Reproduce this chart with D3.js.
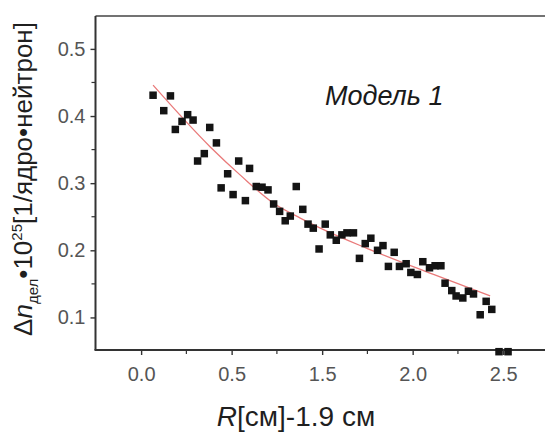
<!DOCTYPE html>
<html>
<head>
<meta charset="utf-8">
<script src="https://cdn.jsdelivr.net/npm/d3@7"></script>
<style>
  html, body { margin: 0; padding: 0; background: #fff; }
  svg { display: block; font-family: "Liberation Sans", Arial, sans-serif; }
</style>
</head>
<body>
<svg id="chart" width="545" height="433"></svg>
<script>
// ---- data ----
const pointX = [0.066,0.162,0.125,0.257,0.287,0.226,0.189,0.379,0.416,0.349,
                0.312,0.539,0.599,0.478,0.442,0.508,0.576,0.636,0.668,0.701,
                0.857,0.732,0.765,0.824,0.796,0.893,0.922,0.951,0.983,1.017,
                1.045,1.078,1.109,1.137,1.173,1.206,1.238,1.269,1.306,1.336,
                1.398,1.366,1.427,1.464,1.490,1.526,1.556,1.593,1.624,1.656,
                1.679,1.716,1.740,1.777,1.808,1.836,1.906,1.937,1.873,1.977,2.027];
const pointY = [0.431,0.430,0.408,0.402,0.394,0.392,0.380,0.383,0.360,0.344,
                0.333,0.333,0.322,0.314,0.293,0.283,0.274,0.295,0.294,0.290,
                0.295,0.269,0.258,0.251,0.244,0.261,0.239,0.233,0.202,0.239,
                0.223,0.215,0.223,0.226,0.226,0.188,0.210,0.218,0.200,0.207,
                0.197,0.176,0.176,0.180,0.167,0.164,0.183,0.174,0.177,0.177,
                0.151,0.140,0.132,0.129,0.139,0.135,0.124,0.112,0.104,0.049,0.049];
const fitX = [0.066,0.382,0.548,0.732,0.879,0.990,1.247,1.615,1.928];
const fitY = [0.446,0.354,0.312,0.270,0.248,0.233,0.203,0.164,0.132];
const xTickValues = [0, 0.5, 1.0, 1.5, 2.0];
const xTickLabels = ["0.0", "0.5", "1.5", "2.0", "2.5"];
const yTickValues = [0.1, 0.2, 0.3, 0.4, 0.5];
const yTickLabels = ["0.1", "0.2", "0.3", "0.4", "0.5"];
const modelLabel = "Модель 1";

// ---- layout ----
const svg = d3.select("#chart");
const mLeft = 95.5, mRight = 545, mTop = 16, mBottom = 350;
const x = d3.scaleLinear().domain([-0.252, 2.231]).range([mLeft, mRight]);
const y = d3.scaleLinear().domain([0.0515, 0.549]).range([mBottom, mTop]);

const axisColor = "#333";
const tickTextColor = "#555";

// frame top line
svg.append("line").attr("x1", mLeft).attr("x2", mRight).attr("y1", mTop).attr("y2", mTop)
  .attr("stroke", "#444").attr("stroke-width", 1.6);

// x axis
const xAxis = svg.append("g").attr("transform", `translate(0,${mBottom})`)
  .call(d3.axisBottom(x).tickValues(xTickValues)
    .tickFormat((d, i) => xTickLabels[i]).tickSize(5).tickPadding(12));
xAxis.select(".domain").remove();
xAxis.selectAll(".tick line").attr("stroke", axisColor).attr("stroke-width", 1.4);
xAxis.selectAll(".tick text").attr("fill", tickTextColor)
  .style("font-size", "20px").style("font-family", "Liberation Sans, Arial, sans-serif");
const xMinor = xTickValues.slice(0, -1).map((v, i) => (v + xTickValues[i + 1]) / 2);
svg.append("g").selectAll("line").data(xMinor).join("line")
  .attr("x1", d => x(d)).attr("x2", d => x(d)).attr("y1", mBottom).attr("y2", mBottom + 4)
  .attr("stroke", axisColor).attr("stroke-width", 1.2);

// y axis
const yAxis = svg.append("g").attr("transform", `translate(${mLeft},0)`)
  .call(d3.axisLeft(y).tickValues(yTickValues)
    .tickFormat((d, i) => yTickLabels[i]).tickSize(5).tickPadding(5));
yAxis.select(".domain").remove();
yAxis.selectAll(".tick line").attr("stroke", axisColor).attr("stroke-width", 1.4);
yAxis.selectAll(".tick text").attr("fill", tickTextColor)
  .style("font-size", "20px").style("font-family", "Liberation Sans, Arial, sans-serif");
const yMinor = yTickValues.slice(0, -1).map((v, i) => (v + yTickValues[i + 1]) / 2);
svg.append("g").selectAll("line").data(yMinor).join("line")
  .attr("x1", mLeft - 4).attr("x2", mLeft).attr("y1", d => y(d)).attr("y2", d => y(d))
  .attr("stroke", axisColor).attr("stroke-width", 1.2);

// axis lines
svg.append("line").attr("x1", mLeft).attr("x2", mLeft).attr("y1", mTop).attr("y2", mBottom)
  .attr("stroke", axisColor).attr("stroke-width", 2);
svg.append("line").attr("x1", mLeft - 1).attr("x2", mRight).attr("y1", mBottom).attr("y2", mBottom)
  .attr("stroke", axisColor).attr("stroke-width", 2.2);

// fit curve
const fitData = fitX.map((v, i) => [v, fitY[i]]);
svg.append("path").datum(fitData)
  .attr("d", d3.line().x(d => x(d[0])).y(d => y(d[1])).curve(d3.curveMonotoneX))
  .attr("fill", "none").attr("stroke", "#e97a7a").attr("stroke-width", 1.3);

// points
const pts = pointX.map((v, i) => [v, pointY[i]]);
const s = 7.5;
svg.append("g").selectAll("rect").data(pts).join("rect")
  .attr("x", d => x(d[0]) - s / 2).attr("y", d => y(d[1]) - s / 2)
  .attr("width", s).attr("height", s).attr("fill", "#141414");

// model label
svg.append("text").attr("x", 325).attr("y", 105)
  .attr("fill", "#1a1a1a").style("font-size", "27px").style("font-style", "italic")
  .text(modelLabel);

// x axis title
const xt = svg.append("text").attr("x", 296).attr("y", 426)
  .attr("text-anchor", "middle").attr("fill", "#1f1f1f").style("font-size", "28px");
xt.append("tspan").style("font-style", "italic").text("R");
xt.append("tspan").text("[см]-1.9 см");

// y axis title
const yt = svg.append("text")
  .attr("transform", "translate(32,179) rotate(-90)")
  .attr("text-anchor", "middle").attr("fill", "#1f1f1f").style("font-size", "26px");
yt.append("tspan").text("Δ");
yt.append("tspan").style("font-style", "italic").text("n");
yt.append("tspan").attr("dy", 6).style("font-size", "15px").style("font-style", "normal").text("дел");
yt.append("tspan").attr("dy", -6).text("•10");
yt.append("tspan").attr("dy", -10).style("font-size", "15px").text("25");
yt.append("tspan").attr("dy", 10).text("[1/ядро•нейтрон]");
</script>
</body>
</html>
